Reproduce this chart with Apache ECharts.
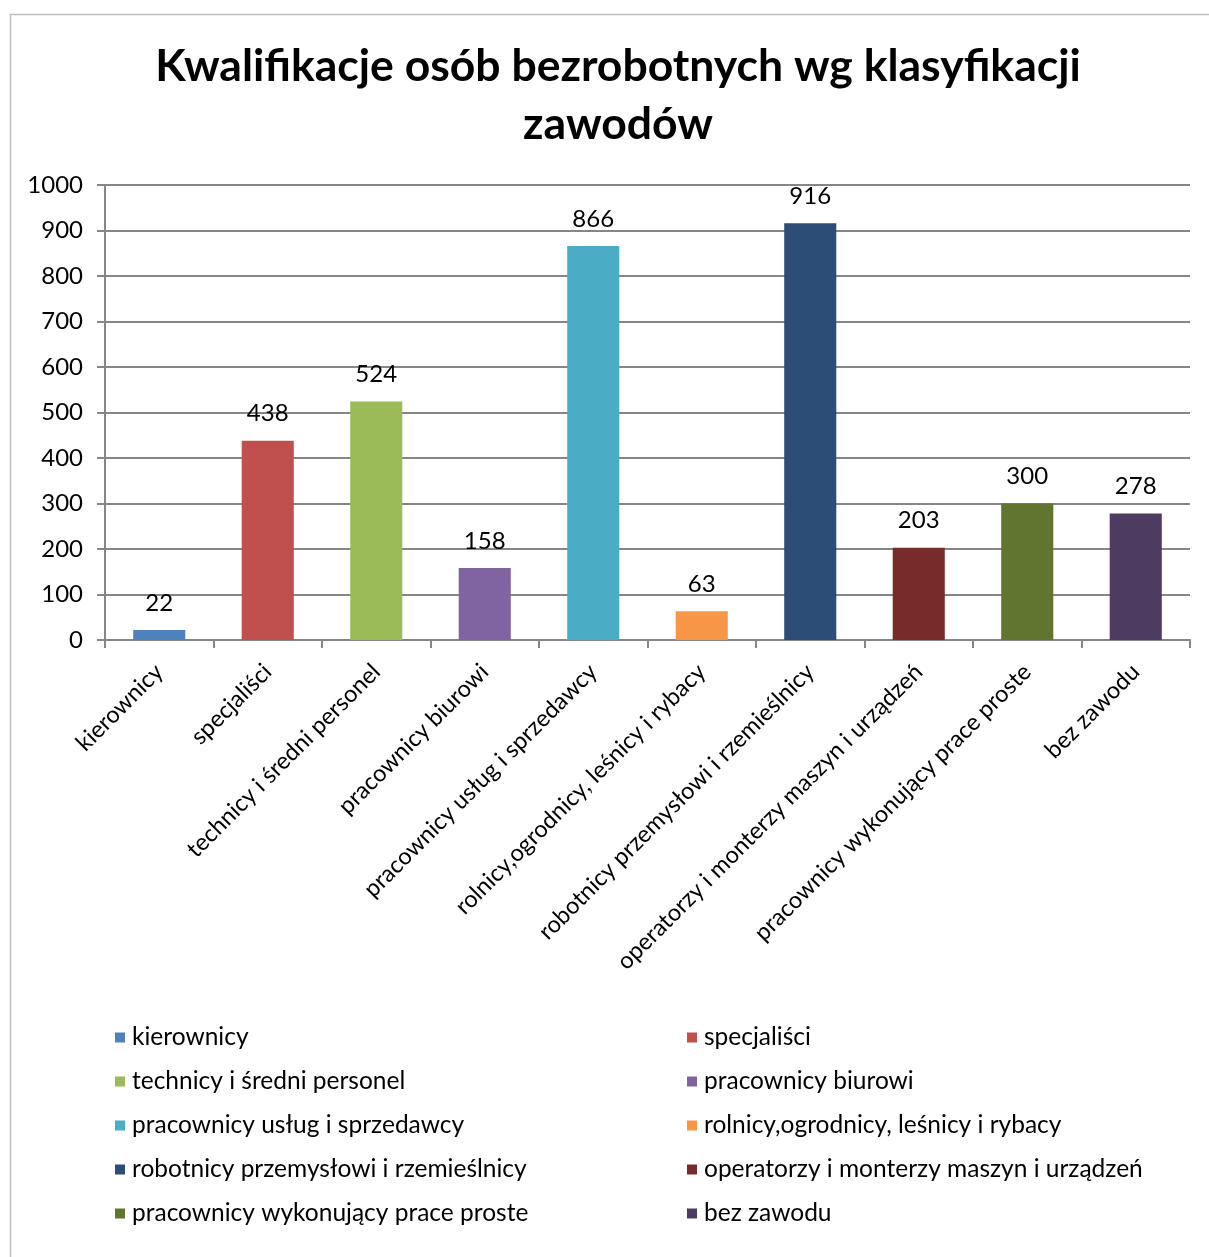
<!DOCTYPE html>
<html>
<head>
<meta charset="utf-8">
<script src="https://cdn.jsdelivr.net/npm/echarts@6/dist/echarts.min.js"></script>
<style>
    html, body { margin: 0; padding: 0; background: #fff; }
    #chart { width: 1209px; height: 1257px; }
</style>
</head>
<body>
<div id="chart"></div>
<script>
// kategorie zawodów
var categories = ['kierownicy', 'specjaliści', 'technicy i średni personel', 'pracownicy biurowi',
    'pracownicy usług i sprzedawcy', 'rolnicy,ogrodnicy, leśnicy i rybacy', 'robotnicy przemysłowi i rzemieślnicy',
    'operatorzy i monterzy maszyn i urządzeń', 'pracownicy wykonujący prace proste', 'bez zawodu']
var values = [22, 438, 524, 158, 866, 63, 916, 203, 300, 278]
var colors = ['#4F81BD', '#C0504D', '#9BBB59', '#8064A2', '#4BACC6', '#F79646', '#2C4D75', '#772C2A', '#5F7530', '#4D3B62']
var yTicks = [0, 100, 200, 300, 400, 500, 600, 700, 800, 900, 1000]

var font = 'Lato, "Open Sans", sans-serif'

// jedna seria na kategorię, żeby legenda miała wszystkie pozycje
var series = categories.map(function (name, i) {
    return {
        name: name,
        type: 'bar',
        stack: 'all',
        barWidth: '48%',
        itemStyle: { color: colors[i] },
        label: {
            show: true,
            position: 'top',
            distance: 15,
            color: '#000',
            fontSize: 24,
            fontFamily: font
        },
        data: values.map(function (v, j) { return j === i ? v : '-' })
    }
})

var leftNames = categories.filter(function (c, i) { return i % 2 === 0 })
var rightNames = categories.filter(function (c, i) { return i % 2 === 1 })

var legendBase = {
    orient: 'vertical',
    top: 1020,
    itemWidth: 10,
    itemHeight: 10,
    itemGap: 19,
    icon: 'rect',
    textStyle: { fontSize: 24.5, lineHeight: 24, color: '#000', fontFamily: font, padding: [0, 0, 0, 2] }
}

var myChart = echarts.init(document.getElementById('chart'))
var option = {
    animation: false,
    backgroundColor: '#fff',
    graphic: [{
        type: 'rect',
        shape: { x: 10.5, y: 14.5, width: 1220, height: 1260 },
        style: { fill: 'none', stroke: '#bdbdbd', lineWidth: 1.5 },
        silent: true
    }],
    title: {
        text: 'Kwalifikacje osób bezrobotnych wg klasyfikacji\nzawodów',
        left: 613,
        textAlign: 'center',
        top: 33,
        textStyle: { fontSize: 44.5, fontWeight: 'bold', color: '#000', lineHeight: 58, fontFamily: font }
    },
    legend: [
        Object.assign({}, legendBase, { left: 110, data: leftNames }),
        Object.assign({}, legendBase, { left: 682, data: rightNames })
    ],
    grid: { left: 105, right: 19, top: 185, bottom: 617 },
    xAxis: {
        type: 'category',
        data: categories,
        axisLine: { lineStyle: { color: '#868686', width: 2 } },
        axisTick: { show: true, length: 8, lineStyle: { color: '#868686', width: 2 } },
        axisLabel: {
            interval: 0,
            rotate: 45,
            margin: 28,
            fontSize: 23.5,
            color: '#000',
            fontFamily: font
        }
    },
    yAxis: {
        type: 'value',
        min: yTicks[0],
        max: yTicks[yTicks.length - 1],
        interval: 100,
        axisLine: { show: true, lineStyle: { color: '#868686', width: 2 } },
        axisTick: { show: true, length: 8, lineStyle: { color: '#868686', width: 2 } },
        splitLine: { lineStyle: { color: '#868686', width: 2 } },
        axisLabel: {
            fontSize: 24,
            color: '#000',
            margin: 22,
            fontFamily: font,
            formatter: function (v) { return String(v) }
        }
    },
    series: series
}
myChart.setOption(option)
</script>
</body>
</html>
